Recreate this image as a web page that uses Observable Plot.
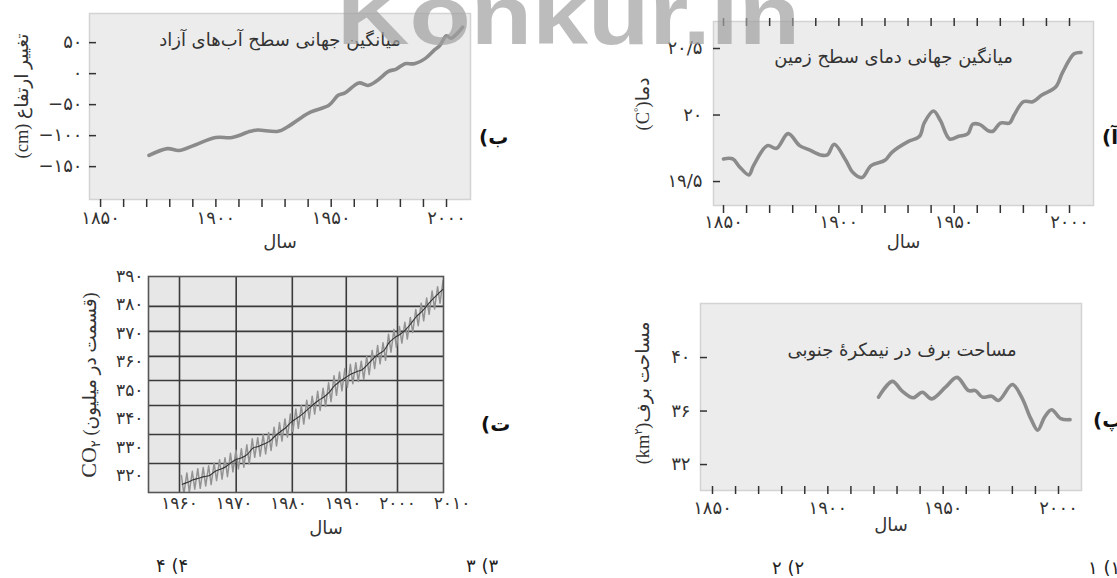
<!DOCTYPE html>
<html><head><meta charset="utf-8">
<script src="https://cdn.jsdelivr.net/npm/d3@7"></script>
<script src="https://cdn.jsdelivr.net/npm/@observablehq/plot@0.6"></script>
<style>
html,body{margin:0;padding:0;background:#fff;}
#root{position:relative;width:1117px;height:578px;overflow:hidden;background:#fff;font-family:"DejaVu Sans",sans-serif;color:#222;}
#root svg.plotsvg{position:absolute;}
.ylab{position:absolute;transform:translate(-50%,-50%) rotate(-90deg);white-space:nowrap;direction:rtl;font-family:"Liberation Serif","DejaVu Sans",serif;font-size:18.5px;color:#333;}
.tag{position:absolute;direction:rtl;font-weight:bold;font-size:20px;transform:translateY(-50%);white-space:nowrap;color:#111;}
.opt{position:absolute;direction:rtl;font-size:18px;transform:translateY(-50%);white-space:nowrap;color:#222;}
#wm{position:absolute;left:0;top:0;pointer-events:none;}
</style></head><body><div id="root"></div><script>
// ---- data ----
const seaYears  = [1871,1879,1884,1891,1900,1907,1915,1918,1927,1931,1937,1941,1949,1953,1956,1962,1966,1970,1975,1978,1982,1986,1991,1995,1997,2000,2002,2007];
const seaLevels = [-132,-121,-124,-115,-103,-103,-93,-91,-93,-86,-71,-62,-51,-35,-31,-15,-19,-11,4,7,16,16,25,39,45,61,57,75];

const tempYears  = [1850,1854,1857,1861,1863,1869,1873,1878,1883,1887,1892,1895,1898,1903,1906,1910,1914,1920,1923,1930,1935,1937,1941,1944,1948,1952,1956,1958,1961,1965,1967,1970,1974,1976,1980,1984,1988,1994,1997,2002,2005];
const tempValues = [19.67,19.67,19.61,19.55,19.62,19.77,19.75,19.86,19.77,19.74,19.70,19.70,19.78,19.66,19.57,19.53,19.62,19.66,19.72,19.80,19.84,19.94,20.03,19.96,19.82,19.84,19.86,19.93,19.93,19.88,19.88,19.94,19.94,20.00,20.10,20.10,20.15,20.21,20.32,20.46,20.47];

const snowYears = [1922,1928,1932,1937,1941,1945,1951,1956,1961,1964,1967,1971,1974,1980,1984,1988,1991,1994,1997,2001,2005];
const snowAreas = [37.04,38.22,37.53,36.99,37.41,36.91,37.78,38.52,37.53,37.53,37.04,37.11,36.79,37.98,37.04,35.43,34.57,35.56,36.10,35.43,35.36];

const co2Years = d3.range(1960, 2009);
const co2Mean = [316.9,317.6,318.5,319.0,319.6,320.0,321.4,322.2,323.1,324.6,325.7,326.3,327.5,329.7,330.2,331.1,332.0,333.8,335.4,336.8,338.8,340.1,341.5,343.2,344.9,346.4,347.6,349.3,351.7,353.2,354.5,355.7,356.5,357.2,359.0,361.0,362.7,363.9,366.8,368.5,369.7,371.3,373.5,376.0,377.7,380.0,382.1,384.0,385.8];
const co2High = [320.0,320.9,321.5,322.4,322.8,323.4,324.4,325.5,326.2,327.8,328.9,329.4,330.8,332.9,333.3,334.4,335.1,337.0,338.6,339.9,341.6,343.4,344.6,346.5,347.9,349.6,350.7,352.6,355.1,356.4,357.6,359.1,359.7,360.2,361.9,364.0,365.7,366.7,369.7,371.4,372.4,373.9,375.6,378.4,380.6,382.4,384.9,386.4,388.5];
const co2Low  = [313.5,314.2,315.2,315.5,316.3,316.8,318.2,318.7,319.6,321.3,322.3,322.9,324.1,326.4,326.8,327.6,328.8,330.4,332.1,333.5,335.4,336.6,338.1,340.0,341.6,342.9,344.3,346.0,348.2,349.8,351.0,352.3,353.1,353.8,355.5,357.6,359.3,360.5,363.4,365.1,366.6,368.0,370.3,372.7,374.4,376.7,378.6,380.6,382.2];

const decadeTicks = d3.range(1850, 2001, 10);
const yearLabels = [1850, 1900, 1950, 2000];
const seaTicks = [-150, -100, -50, 0, 50];
const tempTicks = [19.5, 20, 20.5];
const snowTicks = [32, 36, 40];
const co2Ticks = [320, 330, 340, 350, 360, 370, 380, 390];
const co2YearLabels = [1960, 1970, 1980, 1990, 2000, 2010];
const co2GridYears = [1960, 1970.4, 1980.7, 1990.6, 2000];
const co2GridLevels = [324.2, 334.4, 344.6, 353.4, 361.9, 370.7, 379.5];

const titles = {
  sea: "میانگین جهانی سطح آب‌های آزاد",
  temp: "میانگین جهانی دمای سطح زمین",
  snow: "مساحت برف در نیمکرهٔ جنوبی"
};
const xTitle = "سال";

// ---- helpers ----
const fa = v => String(v).replace(/\d/g, d => "۰۱۲۳۴۵۶۷۸۹"[d]).replace(".", "/").replace("-", "−");
const RTL = s => "\u202B" + s + "\u202C";
const root = document.getElementById("root");
const baseStyle = {background: "none", fontFamily: "DejaVu Sans", fontSize: "18px", color: "#333", overflow: "visible"};
function place(svg, left, top) {
  svg.classList.add("plotsvg");
  svg.style.position = "absolute";
  svg.style.left = left + "px";
  svg.style.top = top + "px";
  root.appendChild(svg);
}
const lineStyle = {stroke: "#8b8b8b", strokeWidth: 3.6, curve: "catmull-rom", strokeLinecap: "round", strokeLinejoin: "round"};
const frameFill = {fill: "#ececec", stroke: "#d3d3d3", strokeWidth: 1.5};
const titleStyle = {fontSize: 18, fill: "#333", fontFamily: "DejaVu Sans"};

// ---- panel ب : sea level ----
const sea = seaYears.map((y, i) => ({year: y, value: seaLevels[i]}));
place(Plot.plot({
  width: 520, height: 260, marginLeft: 89, marginRight: 50, marginTop: 13, marginBottom: 61,
  x: {domain: [1845.2, 2010.4], label: null},
  y: {domain: [-203, 97], label: null},
  style: baseStyle,
  marks: [
    Plot.frame(frameFill),
    Plot.axisY(seaTicks, {tickSize: 7, dx: 7, fill: "none", stroke: "#333", strokeWidth: 1.5}),
    Plot.axisY(seaTicks, {tickSize: 0, tickPadding: 7, tickFormat: fa, label: null}),
    Plot.axisX(decadeTicks, {tickSize: 8, fill: "none", stroke: "#333", strokeWidth: 1.5}),
    Plot.axisX(yearLabels, {tickSize: 0, tickPadding: 12, tickFormat: fa, label: null}),
    Plot.line(sea, {x: "year", y: "value", ...lineStyle}),
    Plot.text([RTL(titles.sea)], {frameAnchor: "top", dy: 20, ...titleStyle}),
    Plot.text([xTitle], {frameAnchor: "bottom", dy: 48, ...titleStyle})
  ]
}), 0, 0);

// ---- panel آ : temperature ----
const temp = tempYears.map((y, i) => ({year: y, value: tempValues[i]}));
place(Plot.plot({
  width: 517, height: 260, marginLeft: 113, marginRight: 24, marginTop: 21, marginBottom: 55,
  x: {domain: [1845.66, 2010.4], label: null},
  y: {domain: [19.32, 20.703], label: null},
  style: baseStyle,
  marks: [
    Plot.frame(frameFill),
    Plot.axisY(tempTicks, {tickSize: 7, dx: 7, fill: "none", stroke: "#333", strokeWidth: 1.5}),
    Plot.axisY(tempTicks, {tickSize: 0, tickPadding: 11, tickFormat: fa, label: null}),
    Plot.axisX(decadeTicks, {anchor: "top", tickSize: 8, dy: 4, fill: "none", stroke: "#333", strokeWidth: 1.5}),
    Plot.axisX(decadeTicks, {tickSize: 8, fill: "none", stroke: "#333", strokeWidth: 1.5}),
    Plot.axisX(yearLabels, {tickSize: 0, tickPadding: 10, tickFormat: fa, label: null}),
    Plot.line(temp, {x: "year", y: "value", ...lineStyle}),
    Plot.text([RTL(titles.temp)], {frameAnchor: "top", dx: -10, dy: 29, ...titleStyle}),
    Plot.text([xTitle], {frameAnchor: "bottom", dy: 42, ...titleStyle})
  ]
}), 600, 0);

// ---- panel پ : snow area ----
const snow = snowYears.map((y, i) => ({year: y, value: snowAreas[i]}));
place(Plot.plot({
  width: 517, height: 260, marginLeft: 100, marginRight: 36, marginTop: 13, marginBottom: 60,
  x: {domain: [1844.8, 2009.97], label: null},
  y: {domain: [30.06, 44.04], label: null},
  style: baseStyle,
  marks: [
    Plot.frame(frameFill),
    Plot.axisY(snowTicks, {tickSize: 7, dx: 7, fill: "none", stroke: "#333", strokeWidth: 1.5}),
    Plot.axisY(snowTicks, {tickSize: 0, tickPadding: 10, tickFormat: fa, label: null}),
    Plot.axisX(decadeTicks, {tickSize: 8, dy: -4, fill: "none", stroke: "#333", strokeWidth: 1.5}),
    Plot.axisX(yearLabels, {tickSize: 0, tickPadding: 11, tickFormat: fa, label: null}),
    Plot.line(snow, {x: "year", y: "value", ...lineStyle}),
    Plot.text([RTL(titles.snow)], {frameAnchor: "top", dx: 11, dy: 40, ...titleStyle}),
    Plot.text([xTitle], {frameAnchor: "bottom", dy: 40, ...titleStyle})
  ]
}), 600, 290);

// ---- panel ت : CO2 ----
const co2Smooth = co2Years.map((y, i) => ({t: y + 0.5, v: co2Mean[i]}));
const co2Season = co2Years.flatMap((y, i) => [{t: y + 0.35, v: co2High[i]}, {t: y + 0.8, v: co2Low[i]}]);
place(Plot.plot({
  width: 520, height: 290, marginLeft: 148, marginRight: 77, marginTop: 16, marginBottom: 58,
  x: {domain: [1954.31, 2008.44], label: null, axis: null},
  y: {domain: [314.02, 390], label: null},
  style: baseStyle,
  marks: [
    Plot.frame({fill: "#e7e7e7"}),
    Plot.gridX(co2GridYears, {stroke: "#3a3a3a", strokeOpacity: 1, strokeWidth: 1.6}),
    Plot.gridY(co2GridLevels, {stroke: "#3a3a3a", strokeOpacity: 1, strokeWidth: 1.6}),
    Plot.line(co2Season, {x: "t", y: "v", stroke: "#939393", strokeWidth: 1.5, clip: true}),
    Plot.line(co2Smooth, {x: "t", y: "v", stroke: "#333", strokeWidth: 1.1, curve: "catmull-rom", clip: true}),
    Plot.frame({stroke: "#555", strokeWidth: 1.6}),
    Plot.axisY(co2Ticks, {tickSize: 0, tickPadding: 5, tickFormat: fa, label: null, fontSize: 17}),
    Plot.text(co2YearLabels, {x: d => d, text: fa, frameAnchor: "bottom", dy: 16, fontSize: 17}),
    Plot.text([xTitle], {frameAnchor: "bottom", dx: 30, dy: 41, ...titleStyle})
  ]
}), 0, 260);

// ---- rotated axis titles ----
function ylab(html, x, y) {
  const d = document.createElement("div");
  d.className = "ylab"; d.innerHTML = html;
  d.style.left = x + "px"; d.style.top = y + "px";
  root.appendChild(d);
}
ylab("تغییر ارتفاع (cm)", 22, 96);
ylab("دما(<sup style='font-size:11px'>°</sup>C)", 643, 104);
ylab("مساحت برف(km<sup style='font-size:11px'>۲</sup>)", 643, 393);
ylab("(قسمت در میلیون) <span style='font-size:22px'>CO</span><sub style='font-size:13px'>۲</sub>", 90, 385);

// ---- panel tags and option numbers ----
function tag(cls, txt, x, y) {
  const d = document.createElement("div");
  d.className = cls; d.textContent = txt;
  d.style.left = x + "px"; d.style.top = y + "px";
  root.appendChild(d);
}
tag("tag", "ب)", 479, 137);
tag("tag", "آ)", 1102, 137);
tag("tag", "پ)", 1093, 420);
tag("tag", "ت)", 481, 424);
tag("opt", "۴) ۴", 156, 565);
tag("opt", "۳) ۳", 466, 565);
tag("opt", "۲) ۲", 772, 567);
tag("opt", "۱) ۱", 1088, 567);

// ---- watermark ----
const ns = "http://www.w3.org/2000/svg";
const wm = document.createElementNS(ns, "svg");
wm.setAttribute("id", "wm"); wm.setAttribute("width", 1117); wm.setAttribute("height", 80);
const wt = document.createElementNS(ns, "text");
wt.setAttribute("x", 337); wt.setAttribute("y", 44);
wt.setAttribute("textLength", 463); wt.setAttribute("lengthAdjust", "spacingAndGlyphs");
wt.setAttribute("font-family", "Liberation Sans, Arial, sans-serif");
wt.setAttribute("font-weight", "bold"); wt.setAttribute("font-size", 84);
wt.setAttribute("fill", "#a0a0a0"); wt.setAttribute("fill-opacity", 0.7);
wt.textContent = "Konkur.in";
wm.appendChild(wt);
root.appendChild(wm);
</script></body></html>
